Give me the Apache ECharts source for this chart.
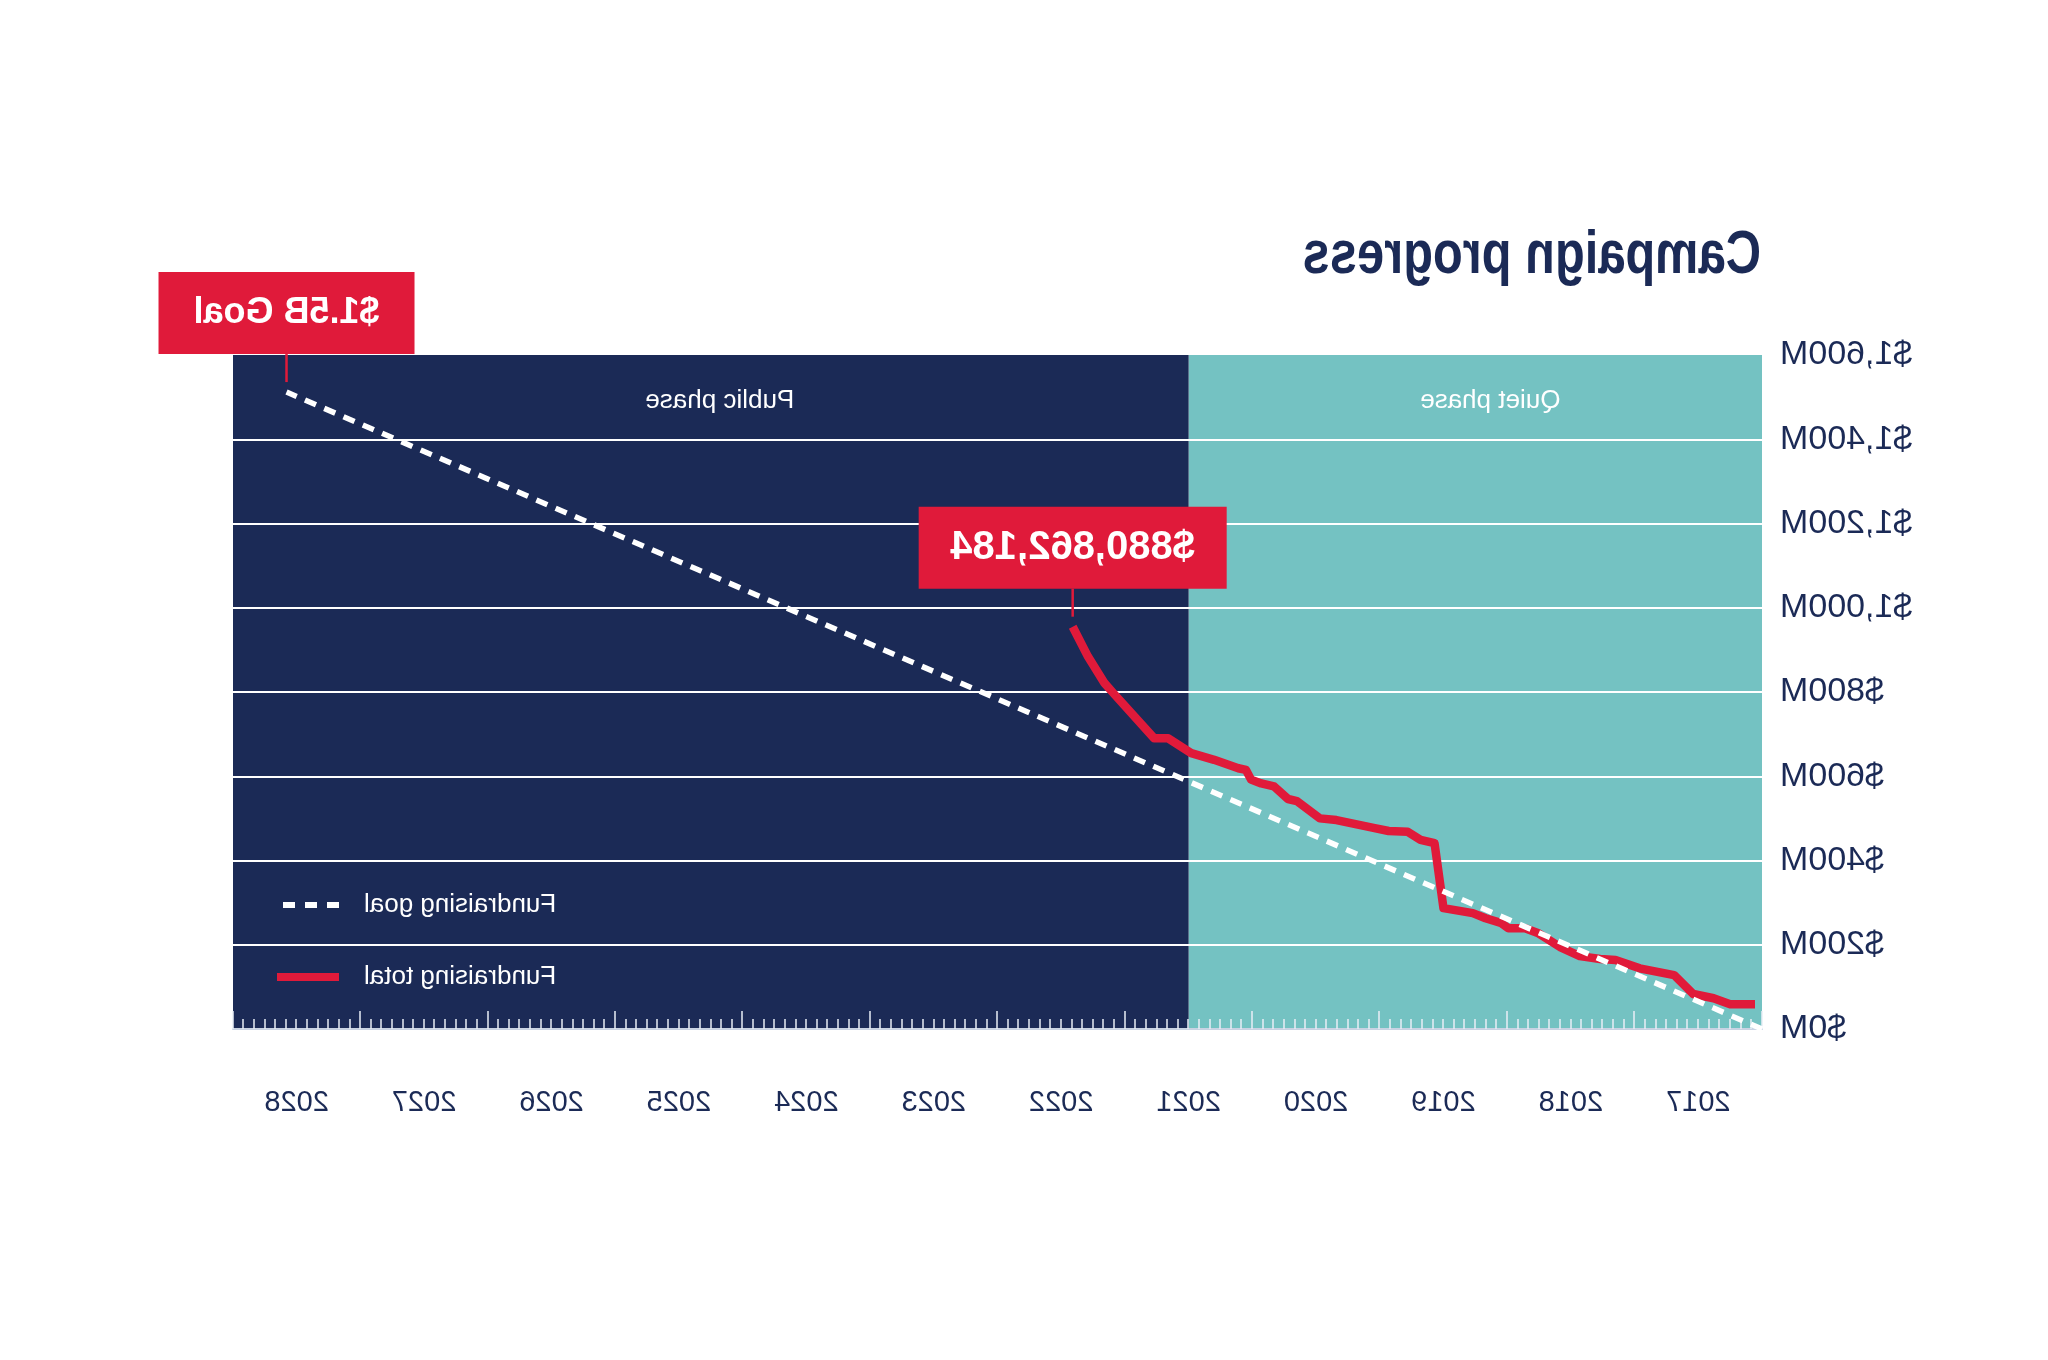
<!DOCTYPE html>
<html>
<head>
<meta charset="utf-8">
<script src="https://cdn.jsdelivr.net/npm/echarts@6/dist/echarts.min.js"></script>
<style>
html,body{margin:0;padding:0;background:#fff;overflow:hidden;}
#chart{width:2048px;height:1360px;transform:scaleX(-1);}
</style>
</head>
<body>
<div id="chart"></div>
<script>
// ---- data ----
const titleText = 'Campaign progress';
const years = ['2017','2018','2019','2020','2021','2022','2023','2024','2025','2026','2027','2028'];
const yTickLabels = ['$0M','$200M','$400M','$600M','$800M','$1,000M','$1,200M','$1,400M','$1,600M'];
const phaseNames = ['Quiet phase', 'Public phase'];
const phaseBounds = [2017, 2021.5, 2029];
const legendNames = ['Fundraising goal', 'Fundraising total'];
const goalYears = [2017, 2028.58];
const goalValues = [0, 1512];
const totalYears = [2017.055, 2017.25, 2017.38, 2017.54, 2017.69, 2017.96, 2018.15, 2018.27, 2018.43, 2018.58,
  2018.76, 2018.86, 2018.99, 2019.05, 2019.17, 2019.27, 2019.50, 2019.57, 2019.68, 2019.78,
  2019.93, 2020.04, 2020.34, 2020.47, 2020.65, 2020.72, 2020.83, 2020.93, 2021.01, 2021.05,
  2021.11, 2021.30, 2021.48, 2021.66, 2021.77, 2022.09, 2022.16, 2022.29, 2022.41];
const totalValues = [59, 59, 73, 83, 128, 144, 164, 166, 173, 194,
  228, 239, 239, 252, 263, 275, 287, 441, 449, 468,
  470, 477, 496, 500, 541, 546, 576, 583, 592, 615,
  619, 639, 655, 690, 690, 797, 821, 884, 955];
const goalCallout = '$1.5B Goal';
const totalCallout = '$880,862,184';

// ---- styles ----
const NAVY = '#1b2a56';
const TEAL = '#74c2c2';
const RED = '#e01a3a';
const FONT = '"Liberation Sans", Arial, sans-serif';

const chart = echarts.init(document.getElementById('chart'), null, {renderer: 'canvas'});

const totalData = totalYears.map((x, i) => [x, totalValues[i]]);
const goalData = goalYears.map((x, i) => [x, goalValues[i]]);
const last = totalData.length - 1;

function callout(coord, text, fontSize, width) {
  return {
    coord: coord,
    symbol: 'rect',
    symbolSize: [2.5, 28],
    symbolOffset: [0, -24],
    itemStyle: {color: RED},
    label: {
      show: true, position: 'top', distance: 0,
      formatter: text,
      backgroundColor: RED, color: '#fff',
      fontFamily: FONT, fontSize: fontSize, fontWeight: 'bold',
      lineHeight: 46, padding: [18, 10], width: width, align: 'center'
    }
  };
}

const option = {
  animation: false,
  backgroundColor: '#fff',
  graphic: [{
    type: 'text', x: 287, y: 256, scaleX: 0.8, scaleY: 1,
    style: {
      text: titleText, fill: NAVY,
      font: 'bold 61px "Liberation Sans", Arial, sans-serif',
      textAlign: 'left', textVerticalAlign: 'middle'
    }
  }],
  grid: {left: 286, right: 233, top: 355, bottom: 331, containLabel: false},
  legend: {
    orient: 'vertical', right: 273, top: 892, padding: 0, align: 'right',
    itemWidth: 62, itemHeight: 26, itemGap: 46, selectedMode: false,
    textStyle: {color: '#fff', fontFamily: FONT, fontSize: 26, padding: [0, 20, 0, 0]},
    data: [
      {name: legendNames[0], itemStyle: {opacity: 0}, lineStyle: {color: '#fff', width: 6, type: [12, 10]}},
      {name: legendNames[1], itemStyle: {opacity: 0}, lineStyle: {color: RED, width: 8}}
    ]
  },
  xAxis: [
    {
      type: 'value', min: 2017, max: 2029, interval: 1, position: 'bottom', z: 3,
      axisLine: {show: true, lineStyle: {color: '#c9d3e3', width: 2}},
      axisTick: {show: true, inside: true, length: 18, lineStyle: {color: '#e9eef6', width: 1.5}},
      minorTick: {show: true, splitNumber: 12, length: 10, lineStyle: {color: '#e9eef6', width: 1.5}},
      axisLabel: {show: false},
      splitLine: {show: false}
    },
    {
      type: 'category', data: years, position: 'bottom', boundaryGap: true, z: 3,
      axisLine: {show: false}, axisTick: {show: false},
      axisLabel: {color: NAVY, fontFamily: FONT, fontSize: 29, margin: 59}
    }
  ],
  yAxis: {
    type: 'value', min: 0, max: 1600, interval: 200, z: 3,
    axisLine: {show: false}, axisTick: {show: false},
    splitLine: {show: true, showMaxLine: false, lineStyle: {color: '#fff', width: 2}},
    axisLabel: {
      color: NAVY, fontFamily: FONT, fontSize: 34, margin: 18,
      formatter: v => yTickLabels[Math.round(v / 200)]
    }
  },
  series: [
    {
      name: legendNames[1], type: 'line', xAxisIndex: 0, data: totalData,
      symbol: 'none', showSymbol: false, z: 4,
      lineStyle: {color: RED, width: 8.5, join: 'round'},
      itemStyle: {color: RED},
      markPoint: {
        z: 10, silent: true,
        data: [callout(totalData[last], totalCallout, 40, 288)]
      }
    },
    {
      name: legendNames[0], type: 'line', xAxisIndex: 0, data: goalData,
      symbol: 'none', showSymbol: false, z: 5,
      lineStyle: {color: '#fff', width: 5.5, type: [12, 9]},
      itemStyle: {color: '#fff'},
      markArea: {
        silent: true, z: 1,
        label: {show: true, position: 'insideTop', distance: 33, color: '#fff', fontFamily: FONT, fontSize: 26},
        data: [
          [{name: phaseNames[0], xAxis: phaseBounds[0], itemStyle: {color: TEAL}, label: {offset: [-15, 0]}}, {xAxis: phaseBounds[1]}],
          [{name: phaseNames[1], xAxis: phaseBounds[1], itemStyle: {color: NAVY}, label: {offset: [-9, 0]}}, {xAxis: phaseBounds[2]}]
        ]
      },
      markPoint: {
        z: 10, silent: true,
        data: [callout(goalData[1], goalCallout, 36, 236)]
      }
    }
  ]
};
chart.setOption(option);
</script>
</body>
</html>
